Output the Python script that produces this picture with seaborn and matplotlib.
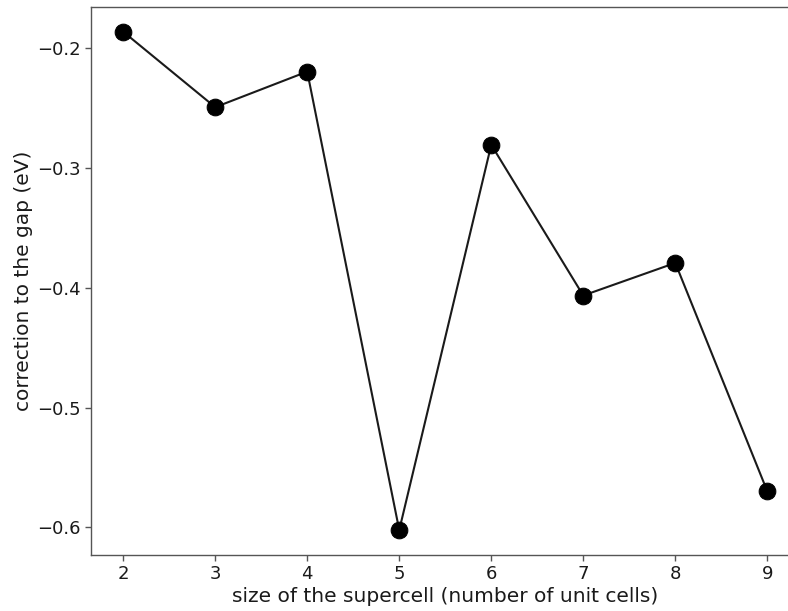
import matplotlib
matplotlib.use("Agg")
import matplotlib.pyplot as plt
import seaborn as sns
import pandas as pd

supercell_size = [2, 3, 4, 5, 6, 7, 8, 9]
gap_correction = [-0.1862, -0.2492, -0.2195, -0.6022, -0.2806, -0.4064, -0.3792, -0.5698]
x_label = "size of the supercell (number of unit cells)"
y_label = "correction to the gap (eV)"

sns.set_theme(style="ticks")
plt.rcParams["font.family"] = ["DejaVu Sans"]
plt.rcParams["axes.edgecolor"] = "#555555"
plt.rcParams["axes.linewidth"] = 1.0

df = pd.DataFrame({"size": supercell_size, "corr": gap_correction})

W, H = 788, 611
fig = plt.figure(figsize=(W / 100, H / 100), dpi=100)
left, right, top, bottom = 91, 799.5, 6.8, 555
ax = fig.add_axes([left / W, (H - bottom) / H, (right - left) / W, (bottom - top) / H])

sns.lineplot(data=df, x="size", y="corr", ax=ax, color="#1a1a1a", linewidth=1.5,
             marker="o", markersize=12, markerfacecolor="black", markeredgecolor="black")

ax.set_xlabel(x_label, fontsize=14.5, color="#1a1a1a", labelpad=2.5)
ax.set_ylabel(y_label, fontsize=14.5, color="#1a1a1a", labelpad=3)
ax.tick_params(labelsize=13, colors="#1a1a1a", length=4, width=1)
ax.tick_params(axis="both", which="both", color="#555555")
ax.set_yticks([-0.6, -0.5, -0.4, -0.3, -0.2])
ax.set_xticks(supercell_size)

fig.savefig("out.png", dpi=100)
